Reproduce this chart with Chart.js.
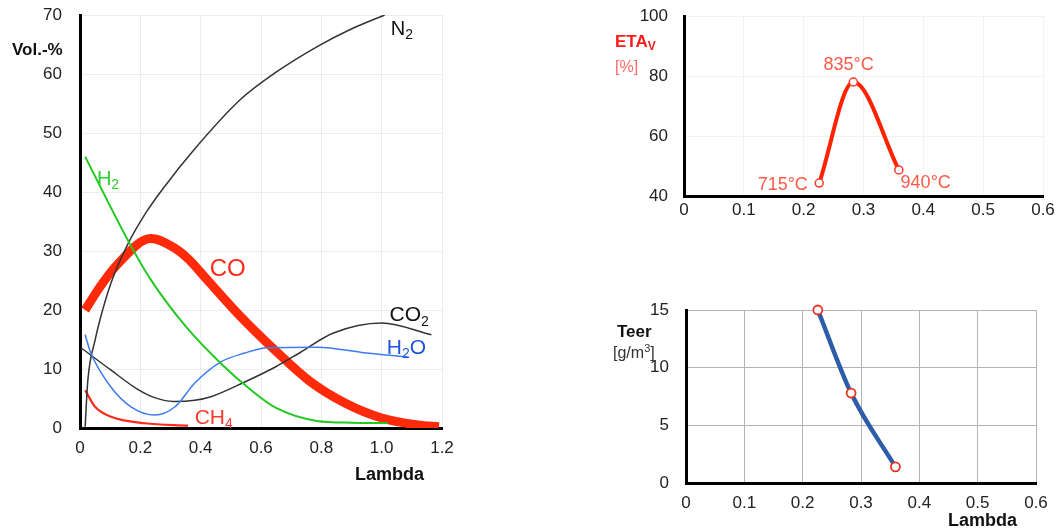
<!DOCTYPE html>
<html>
<head>
<meta charset="utf-8">
<script src="https://cdn.jsdelivr.net/npm/chart.js@4.4.0/dist/chart.umd.min.js"></script>
<style>
  body { margin: 0; background: #fff; width: 1056px; height: 529px; position: relative; overflow: hidden;
         font-family: "Liberation Sans", Arial, Helvetica, sans-serif; }
  canvas { position: absolute; }
  .lbl { position: absolute; white-space: nowrap; line-height: 1; }
  .lbl sub { font-size: 12px; vertical-align: -3px; line-height: 0; }
  .lbl sup { font-size: 11px; vertical-align: 6px; line-height: 0; }
</style>
</head>
<body>
<canvas id="gasChart" width="470" height="470" style="left:0;top:0"></canvas>
<canvas id="etaChart" width="476" height="230" style="left:580px;top:0"></canvas>
<canvas id="teerChart" width="476" height="249" style="left:580px;top:280px"></canvas>

<div class="lbl" style="left:12px;top:41px;font-size:17px;font-weight:bold;color:#111">Vol.-%</div>
<div class="lbl" style="left:355px;top:465px;font-size:18px;font-weight:bold;color:#111">Lambda</div>
<div class="lbl" style="left:615px;top:33px;font-size:17px;font-weight:bold;color:#ff1a1a">ETA<sub>V</sub></div>
<div class="lbl" style="left:615px;top:59px;font-size:16px;color:#ff6a6a">[%]</div>
<div class="lbl" style="left:617px;top:323px;font-size:17px;font-weight:bold;color:#111">Teer</div>
<div class="lbl" style="left:613px;top:345px;font-size:16px;color:#333">[g/m<sup>3</sup>]</div>
<div class="lbl" style="left:948px;top:511px;font-size:18px;font-weight:bold;color:#111">Lambda</div>

<script>
// gas composition vs. lambda (left chart)
const n2Lambda  = [0.017, 0.026, 0.05, 0.066, 0.103, 0.159, 0.215, 0.28, 0.38, 0.53, 0.65, 0.785, 0.894, 1.01];
const n2Vol     = [0.2, 8.1, 14.9, 18.3, 24.6, 31.2, 36.2, 40.9, 47.3, 55.6, 60.3, 64.6, 67.5, 70];
const h2Lambda  = [0.017, 0.159, 0.235, 0.354, 0.474, 0.563, 0.65, 0.785, 0.9, 1.02];
const h2Vol     = [46, 31.8, 25.1, 17.0, 10.6, 6.6, 3.4, 1.2, 0.9, 0.85];
const coLambda  = [0.017, 0.066, 0.12, 0.235, 0.31, 0.36, 0.42, 0.53, 0.65, 0.76, 0.88, 1.0, 1.12, 1.19];
const coVol     = [20, 23.9, 27.5, 32.1, 30.6, 28.6, 25.2, 19, 13, 8, 4.2, 1.7, 0.5, 0.2];
const co2Lambda = [0.003, 0.103, 0.19, 0.25, 0.31, 0.38, 0.434, 0.546, 0.646, 0.73, 0.84, 1.0, 1.165];
const co2Vol    = [13.6, 9.8, 6.6, 5.1, 4.5, 4.7, 5.3, 7.8, 10.3, 12.8, 16.1, 17.8, 15.8];
const h2oLambda = [0.017, 0.036, 0.103, 0.169, 0.248, 0.315, 0.38, 0.467, 0.546, 0.62, 0.785, 0.95, 1.09];
const h2oVol    = [15.8, 12.7, 6.9, 3.6, 2.2, 3.6, 7.6, 11.2, 12.7, 13.6, 13.7, 12.7, 12];
const ch4Lambda = [0.017, 0.05, 0.103, 0.215, 0.358];
const ch4Vol    = [6.4, 3.6, 1.9, 0.8, 0.4];
const gasXTicks = [0, 0.2, 0.4, 0.6, 0.8, 1.0, 1.2];
const gasYTicks = [0, 10, 20, 30, 40, 50, 60, 70];

// efficiency and tar vs. lambda (right charts)
const runLambda = [0.226, 0.283, 0.359];
const runTemp   = ['715°C', '835°C', '940°C'];
const etaValues = [44.3, 78, 48.7];
const teerValues = [15, 7.8, 1.4];
const rightXTicks = [0, 0.1, 0.2, 0.3, 0.4, 0.5, 0.6];
const etaYTicks = [40, 60, 80, 100];
const teerYTicks = [0, 5, 10, 15];

const FONT = '"Liberation Sans", Arial, Helvetica, sans-serif';

function el(id) { return document.getElementById(id); }
function pts(xs, ys) { return xs.map((x, i) => ({ x: x, y: ys[i] })); }
function fmt(v) { return v === 0 ? '0' : Number(v).toFixed(1); }

// draws text (with subscript parts) anchored at data coordinates
const textLabels = {
  id: 'textLabels',
  afterDatasetsDraw(chart, args, opts) {
    const ctx = chart.ctx;
    const xs = chart.scales.x, ys = chart.scales.y;
    (opts.items || []).forEach(item => {
      const px = xs.getPixelForValue(item.x);
      const py = ys.getPixelForValue(item.y);
      const subSize = Math.round(item.size * 0.68);
      let total = 0;
      item.parts.forEach(p => {
        ctx.font = (p[1] ? subSize : item.size) + 'px ' + FONT;
        total += ctx.measureText(p[0]).width;
      });
      let cx = px;
      if (item.align === 'right') cx = px - total;
      if (item.align === 'center') cx = px - total / 2;
      const base = py + item.size * 0.358;
      ctx.save();
      ctx.fillStyle = item.color;
      ctx.textBaseline = 'alphabetic';
      ctx.textAlign = 'left';
      item.parts.forEach(p => {
        ctx.font = (p[1] ? subSize : item.size) + 'px ' + FONT;
        ctx.fillText(p[0], cx, p[1] ? base + item.size * 0.22 : base);
        cx += ctx.measureText(p[0]).width;
      });
      ctx.restore();
    });
  }
};

function axisOpts(o) {
  return {
    type: 'linear',
    min: o.min, max: o.max,
    afterFit: o.fit,
    afterBuildTicks: s => { s.ticks = o.ticks.map(v => ({ value: v })); },
    // the gap between axis and labels comes from an invisible tick, so it does not push the chart area
    grid: { color: o.grid, drawTicks: true, tickLength: o.pad, tickColor: 'rgba(0,0,0,0)', lineWidth: 1 },
    border: { color: '#000', width: 3 },
    ticks: { color: '#222', padding: 0, font: { family: FONT, size: 17 }, callback: o.cb }
  };
}

function line(data, color, width, extra) {
  return Object.assign({
    data: data, borderColor: color, borderWidth: width, pointRadius: 0,
    cubicInterpolationMode: 'monotone', fill: false
  }, extra || {});
}

const baseOpts = {
  responsive: false, animation: false,
  plugins: { legend: { display: false }, tooltip: { enabled: false } }
};

new Chart(el('gasChart'), {
  type: 'line',
  data: {
    datasets: [
      line(pts(h2Lambda, h2Vol), '#22c822', 2),
      line(pts(h2oLambda, h2oVol), '#3d7cf0', 1.5),
      line(pts(co2Lambda, co2Vol), '#333', 1.5),
      line(pts(n2Lambda, n2Vol), '#333', 1.5),
      line(pts(ch4Lambda, ch4Vol), '#ff2a1a', 2.2),
      line(pts(coLambda, coVol), '#ff2a0a', 9, { borderCapStyle: 'butt' })
    ]
  },
  options: Object.assign({}, baseOpts, {
    layout: { padding: { top: 15, right: 28, left: 0, bottom: 0 } },
    scales: {
      x: axisOpts({ min: 0, max: 1.2, ticks: gasXTicks, grid: '#ececec', pad: 10, cb: fmt,
                    fit: s => { s.height = 42; } }),
      y: axisOpts({ min: 0, max: 70, ticks: gasYTicks, grid: '#ececec', pad: 18,
                    fit: s => { s.width = 80; } })
    },
    plugins: Object.assign({}, baseOpts.plugins, {
      textLabels: { items: [
        { x: 1.03, y: 67.9, size: 20, color: '#111', parts: [['N'], ['2', 1]] },
        { x: 0.056, y: 42.4, size: 20, color: '#2ecc2e', parts: [['H'], ['2', 1]] },
        { x: 0.43, y: 27.3, size: 24, color: '#ff2a1a', parts: [['CO']] },
        { x: 1.026, y: 19.4, size: 21, color: '#111', parts: [['CO'], ['2', 1]] },
        { x: 1.017, y: 13.9, size: 21, color: '#2255dd', parts: [['H'], ['2', 1], ['O']] },
        { x: 0.38, y: 2.0, size: 21, color: '#ff3b2f', parts: [['CH'], ['4', 1]] }
      ] }
    })
  }),
  plugins: [textLabels]
});

new Chart(el('etaChart'), {
  type: 'line',
  data: {
    datasets: [line(pts(runLambda, etaValues), '#ff2200', 4, {
      clip: false,
      pointRadius: 4, pointBackgroundColor: '#fff', pointBorderColor: '#ff3a2a', pointBorderWidth: 1.5
    })]
  },
  options: Object.assign({}, baseOpts, {
    layout: { padding: { top: 16, right: 13, left: 0, bottom: 0 } },
    scales: {
      x: axisOpts({ min: 0, max: 0.6, ticks: rightXTicks, grid: '#f2f2f2', pad: 4, cb: fmt,
                    fit: s => { s.height = 34; } }),
      y: axisOpts({ min: 40, max: 100, ticks: etaYTicks, grid: '#f2f2f2', pad: 16,
                    fit: s => { s.width = 104; } })
    },
    plugins: Object.assign({}, baseOpts.plugins, {
      textLabels: { items: [
        { x: 0.207, y: 44.3, size: 18, color: '#ff5a48', align: 'right', parts: [[runTemp[0]]] },
        { x: 0.275, y: 84, size: 18, color: '#ff5a48', align: 'center', parts: [[runTemp[1]]] },
        { x: 0.362, y: 44.8, size: 18, color: '#ff5a48', parts: [[runTemp[2]]] }
      ] }
    })
  }),
  plugins: [textLabels]
});

new Chart(el('teerChart'), {
  type: 'line',
  data: {
    datasets: [line(pts(runLambda, teerValues), '#2d5ca8', 4.5, {
      clip: false,
      pointRadius: 4.5, pointBackgroundColor: '#fff', pointBorderColor: '#e8321e', pointBorderWidth: 1.8
    })]
  },
  options: Object.assign({}, baseOpts, {
    layout: { padding: { top: 30, right: 20, left: 0, bottom: 0 } },
    scales: {
      x: axisOpts({ min: 0, max: 0.6, ticks: rightXTicks, grid: '#b4b4b4', pad: 10, cb: fmt,
                    fit: s => { s.height = 46; } }),
      y: axisOpts({ min: 0, max: 15, ticks: teerYTicks, grid: '#b4b4b4', pad: 17,
                    fit: s => { s.width = 106; } })
    }
  })
});
</script>
</body>
</html>
